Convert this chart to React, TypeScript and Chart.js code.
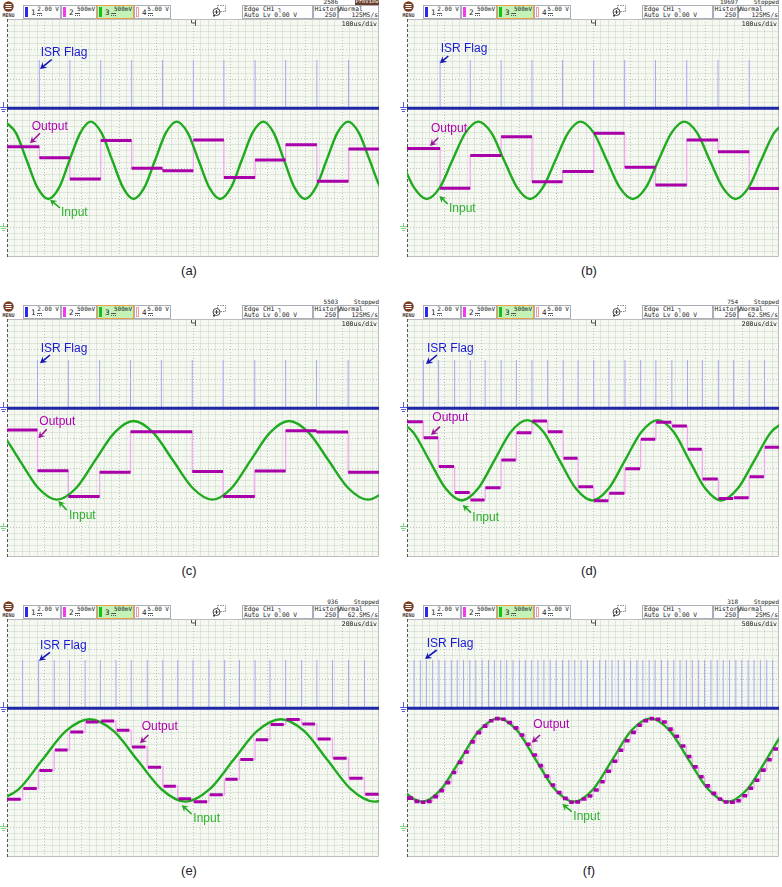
import React, { useEffect, useRef } from 'react';
import { Chart, registerables } from 'chart.js';

Chart.register(...registerables);

// ---------- scope geometry in divisions ----------
const X_DIVS = 10;
const Y_DIVS = 8;
const CH1_LEVEL = 5.0; // ISR flag baseline (div)
const FLAG_HIGH = 6.62; // ISR flag pulse top (div)
const CH3_GROUND = 1.0; // green ground marker (div)

// ---------- (a) ----------
const A_FLAGS = [0.87, 1.69, 2.52, 3.35, 4.18, 5.01, 5.83, 6.67, 7.49, 8.33, 9.18];
const A_OUT = [3.71, 3.34, 2.62, 3.92, 2.98, 2.9, 3.93, 2.67, 3.26, 3.77, 2.55, 3.63];
const A_IN_T = [-0.05, 0.24, 0.53, 0.82, 1.11, 1.4, 1.68, 1.97, 2.25, 2.54, 2.83, 3.12, 3.4, 3.69, 3.98, 4.27, 4.56, 4.86, 5.15, 5.44, 5.73, 6.02, 6.31, 6.6, 6.89, 7.17, 7.45, 7.73, 8.01, 8.3, 8.59, 8.88, 9.17, 9.46, 9.75, 10.04, 10.33];
const A_IN_V = [4.55, 4.17, 3.25, 2.33, 1.95, 2.33, 3.25, 4.17, 4.55, 4.17, 3.25, 2.33, 1.95, 2.33, 3.25, 4.17, 4.55, 4.17, 3.25, 2.33, 1.95, 2.33, 3.25, 4.17, 4.55, 4.17, 3.25, 2.33, 1.95, 2.33, 3.25, 4.17, 4.55, 4.17, 3.25, 2.33, 1.95];

// ---------- (b) ----------
const B_FLAGS = [0.89, 1.7, 2.53, 3.36, 4.18, 5.02, 5.85, 6.68, 7.52, 8.36, 9.2];
const B_OUT = [3.65, 2.31, 3.41, 4.04, 2.53, 2.87, 4.16, 3.02, 2.42, 3.93, 3.54, 2.3];
const B_IN_T = [-0.85, -0.51, -0.16, 0.19, 0.53, 0.88, 1.22, 1.57, 1.92, 2.27, 2.61, 2.96, 3.31, 3.65, 3.99, 4.33, 4.66, 5.02, 5.37, 5.72, 6.07, 6.42, 6.76, 7.11, 7.45, 7.8, 8.14, 8.49, 8.83, 9.18, 9.52, 9.87, 10.21];
const B_IN_V = [4.55, 4.17, 3.25, 2.33, 1.95, 2.33, 3.25, 4.17, 4.55, 4.17, 3.25, 2.33, 1.95, 2.33, 3.25, 4.17, 4.55, 4.17, 3.25, 2.33, 1.95, 2.33, 3.25, 4.17, 4.55, 4.17, 3.25, 2.33, 1.95, 2.33, 3.25, 4.17, 4.55];

// ---------- (c) ----------
const C_FLAGS = [0.82, 1.65, 2.49, 3.32, 4.15, 4.98, 5.81, 6.66, 7.49, 8.32, 9.17];
const C_OUT = [4.27, 2.9, 2.03, 2.85, 4.21, 4.21, 2.87, 2.03, 2.89, 4.24, 4.2, 2.85];
const C_IN_T = [-0.66, -0.16, 0.34, 0.84, 1.34, 1.86, 2.37, 2.89, 3.4, 3.93, 4.46, 4.99, 5.52, 6.04, 6.55, 7.07, 7.58, 8.11, 8.64, 9.17, 9.7, 10.22, 10.74];
const C_IN_V = [4.57, 4.18, 3.25, 2.32, 1.93, 2.32, 3.25, 4.18, 4.57, 4.18, 3.25, 2.32, 1.93, 2.32, 3.25, 4.18, 4.57, 4.18, 3.25, 2.32, 1.93, 2.32, 3.25];

// ---------- (d) ----------
const D_FLAGS = [0.44, 0.85, 1.28, 1.7, 2.1, 2.53, 2.94, 3.36, 3.78, 4.2, 4.6, 5.02, 5.43, 5.86, 6.28, 6.69, 7.12, 7.54, 7.94, 8.37, 8.78, 9.2, 9.61];
const D_OUT = [4.55, 4.01, 3.04, 2.17, 1.92, 2.33, 3.26, 4.18, 4.57, 4.21, 3.32, 2.36, 1.89, 2.14, 2.97, 3.96, 4.53, 4.4, 3.62, 2.62, 1.97, 1.99, 2.7, 3.69];
const D_IN_T = [-0.28, 0.16, 0.6, 1.04, 1.47, 1.91, 2.35, 2.79, 3.23, 3.67, 4.1, 4.54, 4.98, 5.42, 5.86, 6.3, 6.74, 7.17, 7.59, 8.02, 8.44, 8.89, 9.34, 9.79, 10.24];
const D_IN_V = [4.6, 4.2, 3.25, 2.3, 1.9, 2.3, 3.25, 4.2, 4.6, 4.2, 3.25, 2.3, 1.9, 2.3, 3.25, 4.2, 4.6, 4.2, 3.25, 2.3, 1.9, 2.3, 3.25, 4.2, 4.6];

// ---------- (e) ----------
const E_FLAGS = [0.42, 0.85, 1.27, 1.68, 2.1, 2.51, 2.93, 3.34, 3.77, 4.19, 4.59, 5.0, 5.43, 5.85, 6.25, 6.67, 7.07, 7.49, 7.92, 8.33, 8.75, 9.18, 9.61];
const E_OUT = [1.94, 2.3, 2.91, 3.6, 4.2, 4.54, 4.57, 4.26, 3.7, 3.02, 2.38, 1.96, 1.86, 2.09, 2.61, 3.28, 3.94, 4.45, 4.62, 4.47, 3.97, 3.32, 2.65, 2.11];
const E_IN_T = [-0.33, 0.31, 0.94, 1.58, 2.22, 2.87, 3.51, 4.16, 4.8, 5.44, 6.08, 6.72, 7.36, 7.99, 8.62, 9.25, 9.87, 10.51, 11.15];
const E_IN_V = [1.86, 2.27, 3.25, 4.23, 4.63, 4.23, 3.25, 2.27, 1.86, 2.27, 3.25, 4.23, 4.63, 4.23, 3.25, 2.27, 1.86, 2.27, 3.25];

// ---------- (f) ----------
const F_FLAGS = [0.19, 0.36, 0.52, 0.69, 0.86, 1.02, 1.19, 1.35, 1.52, 1.69, 1.85, 2.02, 2.19, 2.35, 2.52, 2.68, 2.85, 3.02, 3.18, 3.35, 3.52, 3.68, 3.85, 4.01, 4.18, 4.35, 4.51, 4.68, 4.85, 5.01, 5.18, 5.34, 5.51, 5.68, 5.84, 6.01, 6.18, 6.34, 6.51, 6.67, 6.84, 7.01, 7.17, 7.34, 7.51, 7.67, 7.84, 8.0, 8.17, 8.34, 8.5, 8.67, 8.84, 9.0, 9.17, 9.33, 9.5, 9.67, 9.83];
const F_OUT = [1.98, 1.87, 1.84, 1.87, 2.03, 2.23, 2.5, 2.84, 3.18, 3.53, 3.87, 4.18, 4.4, 4.58, 4.65, 4.63, 4.52, 4.34, 4.1, 3.79, 3.43, 3.07, 2.72, 2.42, 2.17, 1.97, 1.84, 1.85, 1.95, 2.05, 2.25, 2.53, 2.88, 3.22, 3.59, 3.91, 4.19, 4.43, 4.58, 4.65, 4.63, 4.54, 4.3, 4.06, 3.73, 3.38, 3.03, 2.7, 2.39, 2.14, 1.95, 1.85, 1.84, 1.89, 2.06, 2.31, 2.58, 2.92, 3.27, 3.63];
const F_IN_T = [-1.65, -1.14, -0.63, -0.12, 0.4, 0.91, 1.42, 1.94, 2.45, 2.96, 3.47, 3.98, 4.48, 5.0, 5.51, 6.03, 6.54, 7.06, 7.58, 8.1, 8.62, 9.14, 9.65, 10.16, 10.67];
const F_IN_V = [4.66, 4.25, 3.25, 2.27, 1.86, 2.27, 3.25, 4.25, 4.66, 4.25, 3.25, 2.27, 1.86, 2.27, 3.25, 4.25, 4.66, 4.25, 3.25, 2.27, 1.86, 2.27, 3.25, 4.25, 4.66];

// ---------- styling ----------
const COL_FLAG = '#a8a8f0';
const COL_CH1 = '#2027a6';
const COL_IN = '#20aa20';
const COL_OUT = '#aa00aa';
const COL_OUT_THIN = '#f2a6f2';
const ISR_TXT = '#1a1ad4';
const OUT_TXT = '#b000b0';
const IN_TXT = '#2eb02e';

const MONO = "'DejaVu Sans Mono', monospace";
const SANS = "'Liberation Sans', Arial, sans-serif";

type Ann = { tx: number; ty: number; ax: number[] };
type Panel = {
  key: string; col: number; row: number;
  flags: number[]; out: number[]; inT: number[]; inV: number[];
  seg: number[]; segW: number; tb: string; count: string; status: string; rate: string;
  isr: Ann; outA: Ann; inA: Ann;
};

const PANELS: Panel[] = [
  { key: 'a', col: 0, row: 0, flags: A_FLAGS, out: A_OUT, inT: A_IN_T, inV: A_IN_V, seg: [0, 1], segW: 3,
    tb: '100us/div', count: '2586', status: 'Preview', rate: '125MS/s',
    isr: { tx: 33.7, ty: 34, ax: [44.7, 40.5, 33, 50] },
    outA: { tx: 24.7, ty: 108, ax: [33, 114.3, 23, 124.3] },
    inA: { tx: 54, ty: 194, ax: [53, 189, 43, 180.7] } },
  { key: 'b', col: 400, row: 0, flags: B_FLAGS, out: B_OUT, inT: B_IN_T, inV: B_IN_V, seg: [0, 1], segW: 3,
    tb: '100us/div', count: '19697', status: 'Stopped', rate: '125MS/s',
    isr: { tx: 33.7, ty: 29.5, ax: [41.3, 37, 33, 44.3] },
    outA: { tx: 24, ty: 110, ax: [31.3, 118.7, 23, 127] },
    inA: { tx: 42, ty: 189.7, ax: [40.7, 185, 32.3, 177] } },
  { key: 'c', col: 0, row: 300, flags: C_FLAGS, out: C_OUT, inT: C_IN_T, inV: C_IN_V, seg: [0, 1], segW: 3,
    tb: '100us/div', count: '5503', status: 'Stopped', rate: '125MS/s',
    isr: { tx: 33.7, ty: 29.5, ax: [43, 36, 33, 44.3] },
    outA: { tx: 32.3, ty: 102.7, ax: [39.7, 110.3, 31.3, 119.3] },
    inA: { tx: 62, ty: 196.7, ax: [59.7, 191, 51.3, 182] } },
  { key: 'd', col: 400, row: 300, flags: D_FLAGS, out: D_OUT, inT: D_IN_T, inV: D_IN_V, seg: [0.02, 0.96], segW: 3,
    tb: '200us/div', count: '754', status: 'Stopped', rate: '62.5MS/s',
    isr: { tx: 20, ty: 29.5, ax: [30, 36, 19, 45] },
    outA: { tx: 25.3, ty: 99, ax: [33, 107.7, 24, 116] },
    inA: { tx: 65.3, ty: 199, ax: [64, 193.7, 55.7, 186] } },
  { key: 'e', col: 0, row: 600, flags: E_FLAGS, out: E_OUT, inT: E_IN_T, inV: E_IN_V, seg: [0.05, 0.88], segW: 3,
    tb: '200us/div', count: '936', status: 'Stopped', rate: '62.5MS/s',
    isr: { tx: 33, ty: 27, ax: [43, 33.3, 32, 41.7] },
    outA: { tx: 134.7, ty: 107.3, ax: [141.3, 116, 133, 124.3] },
    inA: { tx: 186.3, ty: 199.7, ax: [184.7, 195, 174.7, 186] } },
  { key: 'f', col: 400, row: 600, flags: F_FLAGS, out: F_OUT, inT: F_IN_T, inV: F_IN_V, seg: [0.08, 0.84], segW: 3.6,
    tb: '500us/div', count: '318', status: 'Stopped', rate: '25MS/s',
    isr: { tx: 19.7, ty: 24.7, ax: [29.7, 31, 18, 40] },
    outA: { tx: 126.3, ty: 106, ax: [133, 116, 124.7, 123.7] },
    inA: { tx: 166.3, ty: 198, ax: [164.7, 192.7, 155.3, 185] } },
];

function arrow(ctx: CanvasRenderingContext2D, x1: number, y1: number, x2: number, y2: number, color: string) {
  const ang = Math.atan2(y2 - y1, x2 - x1);
  const hl = 6.5, hw = 3.6;
  const c = Math.cos(ang), s = Math.sin(ang);
  ctx.strokeStyle = color;
  ctx.lineWidth = 1.6;
  ctx.beginPath();
  ctx.moveTo(x1, y1);
  ctx.lineTo(x2 - hl * 0.6 * c, y2 - hl * 0.6 * s);
  ctx.stroke();
  ctx.fillStyle = color;
  ctx.beginPath();
  ctx.moveTo(x2, y2);
  ctx.lineTo(x2 - hl * c + hw * s, y2 - hl * s - hw * c);
  ctx.lineTo(x2 - hl * 0.65 * c, y2 - hl * 0.65 * s);
  ctx.lineTo(x2 - hl * c - hw * s, y2 - hl * s + hw * c);
  ctx.closePath();
  ctx.fill();
}

function makePlugin(p: Panel) {
  return {
    id: 'scope' + p.key,
    beforeDraw(chart: any) {
      const { ctx, chartArea: a, scales } = chart;
      const xs = scales.x, ys = scales.y;
      ctx.save();
      ctx.fillStyle = '#f4f8f1';
      ctx.fillRect(a.left, a.top, a.right - a.left, a.bottom - a.top);
      ctx.lineWidth = 1;
      // minor grid
      ctx.strokeStyle = 'rgba(140,160,140,0.2)';
      ctx.beginPath();
      for (let i = 1; i < X_DIVS * 5; i++) {
        if (i % 5 === 0) continue;
        const px = Math.round(xs.getPixelForValue(i / 5)) + 0.5;
        ctx.moveTo(px, a.top); ctx.lineTo(px, a.bottom);
      }
      for (let j = 1; j < Y_DIVS * 5; j++) {
        if (j % 5 === 0) continue;
        const py = Math.round(ys.getPixelForValue(j / 5)) + 0.5;
        ctx.moveTo(a.left, py); ctx.lineTo(a.right, py);
      }
      ctx.stroke();
      // major grid
      ctx.strokeStyle = 'rgba(120,135,125,0.45)';
      ctx.setLineDash([1, 2]);
      ctx.beginPath();
      for (let i = 1; i < X_DIVS; i++) {
        const px = Math.round(xs.getPixelForValue(i)) + 0.5;
        ctx.moveTo(px, a.top); ctx.lineTo(px, a.bottom);
      }
      for (let j = 1; j < Y_DIVS; j++) {
        const py = Math.round(ys.getPixelForValue(j)) + 0.5;
        ctx.moveTo(a.left, py); ctx.lineTo(a.right, py);
      }
      ctx.stroke();
      ctx.setLineDash([]);
      // borders
      ctx.strokeStyle = '#bdbdbd';
      ctx.beginPath();
      ctx.moveTo(a.right - 0.5, a.top); ctx.lineTo(a.right - 0.5, a.bottom - 0.5);
      ctx.lineTo(a.left, a.bottom - 0.5);
      ctx.moveTo(a.left, a.top + 0.5); ctx.lineTo(a.right, a.top + 0.5);
      ctx.stroke();
      ctx.strokeStyle = '#555';
      ctx.setLineDash([3, 2]);
      ctx.beginPath();
      ctx.moveTo(a.left + 0.5, a.top); ctx.lineTo(a.left + 0.5, a.bottom);
      ctx.stroke();
      ctx.restore();
    },
    afterDraw(chart: any) {
      const { ctx, chartArea: a, scales } = chart;
      const xs = scales.x, ys = scales.y;
      ctx.save();
      // ground markers in left margin
      const g1 = Math.round(ys.getPixelForValue(CH1_LEVEL));
      ctx.fillStyle = '#5a5ae6';
      ctx.fillRect(3, g1 - 6, 1, 5);
      ctx.fillRect(0, g1 - 1, 7, 1);
      ctx.fillRect(1, g1 + 1, 5, 1);
      ctx.fillRect(2, g1 + 3, 3, 1);
      const g3 = Math.round(ys.getPixelForValue(CH3_GROUND));
      ctx.fillStyle = '#7fd47f';
      ctx.fillRect(3, g3 - 4, 1, 3);
      ctx.fillRect(0, g3 - 1, 7, 1);
      ctx.fillRect(1, g3 + 1, 5, 1);
      ctx.fillRect(2, g3 + 3, 3, 1);
      // trigger position marker
      const tx = Math.round(xs.getPixelForValue(X_DIVS / 2)) + 0.5;
      ctx.strokeStyle = '#555';
      ctx.lineWidth = 1;
      ctx.beginPath();
      ctx.moveTo(tx - 2, a.top + 1); ctx.lineTo(tx - 2, a.top + 4); ctx.lineTo(tx + 2, a.top + 4);
      ctx.moveTo(tx + 2, a.top + 1); ctx.lineTo(tx + 2, a.top + 7);
      ctx.stroke();
      // timebase text
      ctx.fillStyle = '#222';
      ctx.font = `6.5px ${MONO}`;
      ctx.textAlign = 'right';
      ctx.textBaseline = 'top';
      ctx.fillText(p.tb, a.right - 2, a.top + 2);
      // annotations
      ctx.font = `12px ${SANS}`;
      ctx.textAlign = 'left';
      ctx.textBaseline = 'middle';
      const L = a.left, T = a.top;
      const items: [Ann, string, string, string][] = [
        [p.isr, 'ISR Flag', ISR_TXT, '#1515b8'],
        [p.outA, 'Output', OUT_TXT, '#9c139c'],
        [p.inA, 'Input', IN_TXT, '#22aa22'],
      ];
      items.forEach(([an, txt, tc, ac]) => {
        ctx.fillStyle = tc;
        ctx.fillText(txt, L + an.tx, T + an.ty);
        arrow(ctx, L + an.ax[0], T + an.ax[1], L + an.ax[2], T + an.ax[3], ac);
      });
      ctx.restore();
    },
  };
}

function ScopeChart({ p }: { p: Panel }) {
  const ref = useRef<HTMLCanvasElement>(null);
  useEffect(() => {
    const flagPts: any[] = [];
    p.flags.forEach((t) => {
      flagPts.push({ x: t, y: CH1_LEVEL }, { x: t, y: FLAG_HIGH }, { x: t, y: null });
    });
    const thin: any[] = [{ x: -1, y: p.out[0] }];
    p.flags.forEach((t, i) => thin.push({ x: t, y: p.out[i + 1] }));
    thin.push({ x: X_DIVS + 1, y: p.out[p.out.length - 1] });

    const w = p.flags[1] - p.flags[0];
    const thick: any[] = [];
    p.out.forEach((v, k) => {
      const start = k === 0 ? -1 : p.flags[k - 1] + p.seg[0] * w;
      const end = k < p.flags.length ? p.flags[k] - (1 - p.seg[1]) * w : p.flags[k - 1] + p.seg[1] * w;
      thick.push({ x: start, y: v }, { x: end, y: v }, { x: end, y: null });
    });
    const input = p.inT.map((t, i) => ({ x: t, y: p.inV[i] }));
    const base = [{ x: 0, y: CH1_LEVEL }, { x: X_DIVS, y: CH1_LEVEL }];

    const chart = new Chart(ref.current as HTMLCanvasElement, {
      type: 'line',
      data: {
        datasets: [
          { data: thick, borderColor: COL_OUT, borderWidth: p.segW, spanGaps: false, order: 0, clip: 0 } as any,
          { data: input, borderColor: COL_IN, borderWidth: 2.4, cubicInterpolationMode: 'monotone', order: 1, clip: 0 } as any,
          { data: thin, borderColor: COL_OUT_THIN, borderWidth: 1.2, stepped: 'before', order: 2, clip: 0 } as any,
          { data: base, borderColor: COL_CH1, borderWidth: 3, order: 3, clip: 0 } as any,
          { data: flagPts, borderColor: COL_FLAG, borderWidth: 1, spanGaps: false, order: 4, clip: 0 } as any,
        ],
      },
      options: {
        animation: false,
        responsive: false,
        devicePixelRatio: 1,
        events: [],
        layout: { padding: { left: 7, right: 3, top: 0, bottom: 2 } },
        elements: { point: { radius: 0 }, line: { capBezierPoints: false, fill: false } },
        scales: {
          x: { type: 'linear', min: 0, max: X_DIVS, display: false },
          y: { type: 'linear', min: 0, max: Y_DIVS, display: false },
        },
        plugins: { legend: { display: false }, tooltip: { enabled: false } },
      } as any,
      plugins: [makePlugin(p)],
    });
    return () => chart.destroy();
  }, [p]);
  return <canvas ref={ref} width={382} height={240} style={{ display: 'block', width: 382, height: 240 }} />;
}

const CHANNELS = [
  { n: '1', v: '2.00 V', bar: '#2b2be8', left: 23, w: 38 },
  { n: '2', v: '500mV', bar: '#f03cf0', left: 61, w: 36 },
  { n: '3', v: '500mV', bar: '#18c018', left: 97, w: 37, active: true },
  { n: '4', v: '5.00 V', bar: '#f09a9a', left: 134, w: 37, hollow: true },
];

function Txt({ x, y, children, size = 6.3, align = 'left', w = 60, color = '#222', bold = false }: any) {
  const left = align === 'right' ? x - w : x;
  return (
    <div style={{ position: 'absolute', left, top: y, width: w, textAlign: align, fontFamily: MONO, fontSize: size,
      lineHeight: `${size}px`, color, whiteSpace: 'pre', fontWeight: bold ? 700 : 400 }}>{children}</div>
  );
}

function Header({ p }: { p: Panel }) {
  const box = (left: number, w: number, extra: any = {}) => (
    <div style={{ position: 'absolute', left, top: 5, width: w, height: 14, boxSizing: 'border-box',
      border: '1px solid #a9adb5', background: '#fdfdfd', ...extra }} />
  );
  return (
    <>
      {/* MENU */}
      <svg style={{ position: 'absolute', left: 2, top: 1 }} width={13} height={11}>
        <circle cx={6.5} cy={5.5} r={5.2} fill="#7a3d24" />
        <rect x={3.5} y={3} width={6} height={1} fill="#fff" />
        <rect x={3.5} y={5} width={6} height={1} fill="#fff" />
        <rect x={3.5} y={7} width={6} height={1} fill="#fff" />
      </svg>
      <Txt x={0} y={12.5} size={5} w={17} align="left" bold color="#4a3a35"><span style={{ display: 'block', textAlign: 'center' }}>MENU</span></Txt>
      {/* channels */}
      {CHANNELS.map((c) => (
        <React.Fragment key={c.n}>
          {box(c.left, c.w, c.active ? { background: '#c4f2b6', border: '1px solid #e6a24a' } : {})}
          <div style={{ position: 'absolute', left: c.left + 2, top: 7, width: 3, height: 10, boxSizing: 'border-box',
            background: c.hollow ? '#fff' : c.bar, border: c.hollow ? `1px solid ${c.bar}` : 'none' }} />
          <Txt x={c.left + 8} y={9} size={7.5}>{c.n}</Txt>
          <Txt x={c.left + c.w - 2} y={6} size={6} align="right" w={30}>{c.v}</Txt>
          <svg style={{ position: 'absolute', left: c.left + 14, top: 13 }} width={5} height={4}>
            <rect x={0} y={0} width={5} height={1} fill="#555" />
            <rect x={0} y={2} width={1} height={1} fill="#555" />
            <rect x={2} y={2} width={1} height={1} fill="#555" />
            <rect x={4} y={2} width={1} height={1} fill="#555" />
          </svg>
        </React.Fragment>
      ))}
      {/* zoom icon */}
      <svg style={{ position: 'absolute', left: 212, top: 5 }} width={14} height={12}>
        <rect x={5.5} y={0.5} width={8} height={6} fill="none" stroke="#888" strokeDasharray="1.5 1" />
        <circle cx={4.5} cy={7} r={3.5} fill="#fff" stroke="#444" />
        <rect x={2.5} y={6.5} width={4} height={1} fill="#444" />
        <rect x={4} y={5} width={1} height={4} fill="#444" />
        <rect x={1} y={10} width={2} height={1.5} fill="#444" />
      </svg>
      {/* trigger / history / acquisition */}
      {box(242, 71)}
      {box(313, 25)}
      {box(338, 41)}
      <Txt x={244} y={6}>{'Edge CH1 ┐'}</Txt>
      <Txt x={244} y={12}>{'Auto Lv 0.00 V'}</Txt>
      <Txt x={314.5} y={6}>History</Txt>
      <Txt x={336} y={12} align="right" w={22}>250</Txt>
      <Txt x={340} y={6}>Normal</Txt>
      <Txt x={378} y={12} align="right" w={38}>{p.rate}</Txt>
      {/* counter + status */}
      <Txt x={338} y={-1} align="right" w={30} size={6}>{p.count}</Txt>
      {p.status === 'Preview' ? (
        <div style={{ position: 'absolute', left: 355, top: -1, width: 24, height: 6, background: '#6b3f2e' }}>
          <Txt x={0} y={0} size={5.5} w={24} color="#fff"><span style={{ display: 'block', textAlign: 'center' }}>Preview</span></Txt>
        </div>
      ) : (
        <Txt x={379} y={-1} align="right" w={30} size={6}>{p.status}</Txt>
      )}
    </>
  );
}

function ScopePanel({ p }: { p: Panel }) {
  return (
    <div style={{ position: 'absolute', left: p.col, top: p.row, width: 382, height: 290 }}>
      <Header p={p} />
      <div style={{ position: 'absolute', left: 0, top: 19 }}>
        <ScopeChart p={p} />
      </div>
      <div style={{ position: 'absolute', left: 168, top: 263, width: 42, textAlign: 'center',
        fontFamily: SANS, fontSize: 13, lineHeight: '16px', color: '#222' }}>({p.key})</div>
    </div>
  );
}

export default function App() {
  return (
    <div style={{ position: 'absolute', left: 0, top: 0, width: 782, height: 887, background: '#fff', overflow: 'hidden' }}>
      {PANELS.map((p) => (
        <ScopePanel key={p.key} p={p} />
      ))}
    </div>
  );
}
